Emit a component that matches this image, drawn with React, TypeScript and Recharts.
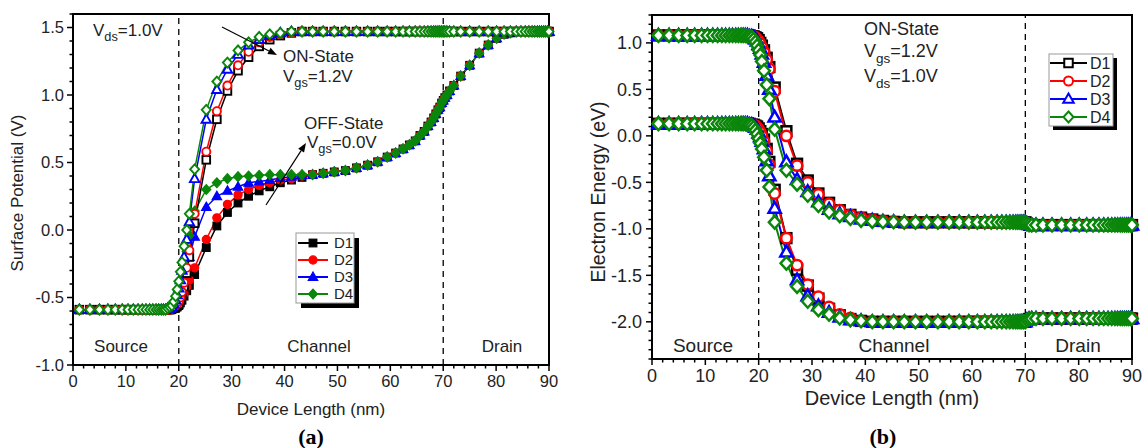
import React from "react";
import { LineChart, Line, XAxis, YAxis, ReferenceLine, ReferenceArea } from "recharts";

const FONT = '"Liberation Sans", Arial, Helvetica, sans-serif';
const SERIF = '"Liberation Serif", "Times New Roman", serif';

const BLACK = "#000000";
const RED = "#ff0000";
const BLUE = "#0000ff";
const GREEN = "#0a870a";

// Device length mesh (nm): source, gate edge, rest of channel + drain
const X_SOURCE = [1.2, 3.2, 5, 6.6, 8, 9.3, 10.4, 11.4, 12.3, 13.1, 13.8, 14.5, 15.1, 15.7, 16.2, 16.7];
const X_GATE = [17.1, 17.5, 17.9, 18.3, 18.7, 19.05, 19.4, 19.7, 20, 20.3, 20.6, 21, 21.5, 22, 23, 25.2, 27.2, 29.2, 31.2, 33.2, 35.2, 37.2, 39.2, 41.3, 43.3];
const X_REST = [45.3, 47.3, 49.4, 51.5, 53.6, 55.7, 57.6, 59.4, 61, 62.4, 63.6, 64.7, 65.6, 66.4, 67.1, 67.7, 68.2, 68.6, 69, 69.35, 69.7, 70, 70.3, 70.7, 71.2, 72, 73.3, 75, 76.8, 78.5, 80.1, 81.5, 82.7, 83.8, 84.7, 85.5, 86.2, 86.8, 87.3, 87.8, 88.2, 88.6, 89, 89.35, 89.7, 90];

// (a) surface potential (V)
const A_SOURCE = [-0.59, -0.59, -0.59, -0.59, -0.59, -0.59, -0.59, -0.59, -0.59, -0.59, -0.59, -0.59, -0.59, -0.59, -0.59, -0.59];
const A_ON_D1 = [-0.59, -0.59, -0.59, -0.59, -0.58, -0.58, -0.57, -0.56, -0.55, -0.52, -0.48, -0.42, -0.32, -0.2, 0.05, 0.52, 0.82, 1.03, 1.18, 1.28, 1.36, 1.41, 1.44, 1.46, 1.47];
const A_ON_D2 = [-0.59, -0.59, -0.59, -0.59, -0.58, -0.57, -0.56, -0.55, -0.53, -0.5, -0.46, -0.39, -0.28, -0.15, 0.12, 0.58, 0.88, 1.07, 1.22, 1.32, 1.39, 1.43, 1.45, 1.46, 1.47];
const A_ON_D3 = [-0.59, -0.59, -0.58, -0.58, -0.57, -0.55, -0.52, -0.48, -0.43, -0.37, -0.3, -0.2, -0.07, 0.06, 0.38, 0.82, 1.04, 1.19, 1.3, 1.37, 1.41, 1.44, 1.46, 1.47, 1.47];
const A_ON_D4 = [-0.59, -0.59, -0.58, -0.57, -0.56, -0.53, -0.49, -0.44, -0.38, -0.31, -0.24, -0.12, 0.0, 0.12, 0.45, 0.89, 1.1, 1.24, 1.33, 1.39, 1.43, 1.45, 1.46, 1.47, 1.47];
const A_ON_REST = [1.47, 1.47, 1.47, 1.47, 1.47, 1.47, 1.47, 1.47, 1.47, 1.47, 1.47, 1.47, 1.47, 1.47, 1.47, 1.47, 1.47, 1.47, 1.47, 1.47, 1.47, 1.47, 1.47, 1.47, 1.47, 1.47, 1.47, 1.47, 1.47, 1.47, 1.47, 1.47, 1.47, 1.47, 1.47, 1.47, 1.47, 1.47, 1.47, 1.47, 1.47, 1.47, 1.47, 1.47, 1.47, 1.47];
const A_OFF_D1 = [-0.59, -0.59, -0.59, -0.59, -0.59, -0.58, -0.58, -0.57, -0.56, -0.54, -0.52, -0.49, -0.45, -0.41, -0.33, -0.13, 0.03, 0.13, 0.2, 0.25, 0.29, 0.32, 0.35, 0.37, 0.39];
const A_OFF_D2 = [-0.59, -0.59, -0.59, -0.59, -0.58, -0.58, -0.57, -0.56, -0.55, -0.53, -0.5, -0.47, -0.42, -0.37, -0.28, -0.07, 0.09, 0.19, 0.26, 0.3, 0.33, 0.35, 0.37, 0.38, 0.4];
const A_OFF_D3 = [-0.59, -0.59, -0.59, -0.58, -0.58, -0.57, -0.56, -0.54, -0.52, -0.48, -0.44, -0.38, -0.3, -0.2, -0.05, 0.17, 0.25, 0.29, 0.32, 0.35, 0.36, 0.37, 0.385, 0.395, 0.405];
const A_OFF_D4 = [-0.59, -0.59, -0.58, -0.58, -0.57, -0.56, -0.54, -0.52, -0.49, -0.44, -0.38, -0.28, -0.16, -0.04, 0.14, 0.3, 0.35, 0.38, 0.395, 0.4, 0.405, 0.41, 0.41, 0.41, 0.41];
const A_OFF_REST = [0.41, 0.42, 0.43, 0.44, 0.46, 0.48, 0.505, 0.54, 0.57, 0.6, 0.63, 0.66, 0.7, 0.73, 0.77, 0.8, 0.83, 0.86, 0.89, 0.91, 0.94, 0.96, 0.98, 1.0, 1.03, 1.07, 1.14, 1.22, 1.31, 1.37, 1.42, 1.45, 1.46, 1.47, 1.47, 1.47, 1.47, 1.47, 1.47, 1.47, 1.47, 1.47, 1.47, 1.47, 1.47, 1.47];

// (b) band edges (eV)
const B_EC_SOURCE = [1.08, 1.08, 1.08, 1.08, 1.08, 1.08, 1.08, 1.08, 1.08, 1.08, 1.08, 1.08, 1.08, 1.08, 1.08, 1.08];
const B_EC_D1 = [1.08, 1.08, 1.08, 1.08, 1.07, 1.07, 1.06, 1.05, 1.03, 1.0, 0.97, 0.92, 0.84, 0.74, 0.52, 0.05, -0.3, -0.48, -0.62, -0.72, -0.8, -0.85, -0.88, -0.9, -0.915];
const B_EC_D2 = [1.08, 1.08, 1.08, 1.08, 1.07, 1.07, 1.06, 1.04, 1.02, 0.99, 0.95, 0.9, 0.82, 0.72, 0.48, 0.0, -0.32, -0.5, -0.63, -0.73, -0.8, -0.85, -0.88, -0.9, -0.915];
const B_EC_D3 = [1.08, 1.08, 1.08, 1.07, 1.07, 1.06, 1.04, 1.02, 0.98, 0.94, 0.88, 0.79, 0.65, 0.5, 0.2, -0.28, -0.47, -0.6, -0.71, -0.79, -0.84, -0.87, -0.895, -0.91, -0.92];
const B_EC_D4 = [1.08, 1.08, 1.07, 1.07, 1.06, 1.04, 1.01, 0.97, 0.92, 0.87, 0.8, 0.7, 0.55, 0.4, 0.07, -0.37, -0.52, -0.64, -0.75, -0.82, -0.86, -0.89, -0.91, -0.92, -0.925];
const B_EC_REST = [-0.925, -0.93, -0.93, -0.93, -0.93, -0.93, -0.93, -0.93, -0.93, -0.93, -0.93, -0.93, -0.93, -0.93, -0.93, -0.93, -0.93, -0.93, -0.93, -0.93, -0.93, -0.93, -0.945, -0.955, -0.96, -0.96, -0.96, -0.96, -0.96, -0.96, -0.96, -0.96, -0.96, -0.96, -0.96, -0.96, -0.96, -0.96, -0.96, -0.96, -0.96, -0.96, -0.96, -0.96, -0.96, -0.96];
const B_EV_SOURCE = [0.13, 0.13, 0.13, 0.13, 0.13, 0.13, 0.13, 0.13, 0.13, 0.13, 0.13, 0.13, 0.13, 0.13, 0.13, 0.13];
const B_EV_D1 = [0.13, 0.13, 0.13, 0.13, 0.12, 0.12, 0.11, 0.1, 0.08, 0.05, 0.02, -0.04, -0.14, -0.28, -0.58, -1.1, -1.44, -1.61, -1.75, -1.86, -1.93, -1.97, -1.99, -2.0, -2.0];
const B_EV_D2 = [0.13, 0.13, 0.13, 0.13, 0.12, 0.12, 0.11, 0.09, 0.07, 0.04, 0.0, -0.06, -0.16, -0.31, -0.62, -1.1, -1.39, -1.6, -1.73, -1.84, -1.92, -1.96, -1.99, -2.0, -2.0];
const B_EV_D3 = [0.13, 0.13, 0.13, 0.12, 0.12, 0.11, 0.09, 0.07, 0.03, -0.01, -0.06, -0.14, -0.27, -0.43, -0.78, -1.25, -1.55, -1.72, -1.83, -1.9, -1.95, -1.98, -1.99, -2.0, -2.0];
const B_EV_D4 = [0.13, 0.13, 0.12, 0.12, 0.11, 0.09, 0.06, 0.02, -0.03, -0.08, -0.14, -0.23, -0.37, -0.55, -0.93, -1.37, -1.62, -1.78, -1.87, -1.92, -1.96, -1.98, -1.99, -2.0, -2.0];
const B_EV_REST = [-2.0, -2.0, -2.0, -2.0, -2.0, -2.0, -2.0, -2.0, -2.0, -2.0, -2.0, -2.0, -2.0, -2.0, -2.0, -2.0, -2.0, -2.0, -2.0, -2.0, -2.0, -2.0, -1.98, -1.97, -1.965, -1.965, -1.965, -1.965, -1.965, -1.965, -1.965, -1.965, -1.965, -1.965, -1.965, -1.965, -1.965, -1.965, -1.965, -1.965, -1.965, -1.965, -1.965, -1.965, -1.965, -1.965];

// axis ticks (majors get labels)
const X_TICKS = [0, 2, 4, 6, 8, 10, 12, 14, 16, 18, 20, 22, 24, 26, 28, 30, 32, 34, 36, 38, 40, 42, 44, 46, 48, 50, 52, 54, 56, 58, 60, 62, 64, 66, 68, 70, 72, 74, 76, 78, 80, 82, 84, 86, 88, 90];
const A_Y_TICKS = [-1.0, -0.9, -0.8, -0.7, -0.6, -0.5, -0.4, -0.3, -0.2, -0.1, 0, 0.1, 0.2, 0.3, 0.4, 0.5, 0.6, 0.7, 0.8, 0.9, 1.0, 1.1, 1.2, 1.3, 1.4, 1.5, 1.6];
const B_Y_TICKS = [-2.4, -2.3, -2.2, -2.1, -2.0, -1.9, -1.8, -1.7, -1.6, -1.5, -1.4, -1.3, -1.2, -1.1, -1.0, -0.9, -0.8, -0.7, -0.6, -0.5, -0.4, -0.3, -0.2, -0.1, 0, 0.1, 0.2, 0.3, 0.4, 0.5, 0.6, 0.7, 0.8, 0.9, 1.0, 1.1, 1.2, 1.3];

const X_ALL = [...X_SOURCE, ...X_GATE, ...X_REST];
const SERIES: Record<string, number[]> = {
  aOn1: [...A_SOURCE, ...A_ON_D1, ...A_ON_REST],
  aOn2: [...A_SOURCE, ...A_ON_D2, ...A_ON_REST],
  aOn3: [...A_SOURCE, ...A_ON_D3, ...A_ON_REST],
  aOn4: [...A_SOURCE, ...A_ON_D4, ...A_ON_REST],
  aOff1: [...A_SOURCE, ...A_OFF_D1, ...A_OFF_REST],
  aOff2: [...A_SOURCE, ...A_OFF_D2, ...A_OFF_REST],
  aOff3: [...A_SOURCE, ...A_OFF_D3, ...A_OFF_REST],
  aOff4: [...A_SOURCE, ...A_OFF_D4, ...A_OFF_REST],
  bEc1: [...B_EC_SOURCE, ...B_EC_D1, ...B_EC_REST],
  bEc2: [...B_EC_SOURCE, ...B_EC_D2, ...B_EC_REST],
  bEc3: [...B_EC_SOURCE, ...B_EC_D3, ...B_EC_REST],
  bEc4: [...B_EC_SOURCE, ...B_EC_D4, ...B_EC_REST],
  bEv1: [...B_EV_SOURCE, ...B_EV_D1, ...B_EV_REST],
  bEv2: [...B_EV_SOURCE, ...B_EV_D2, ...B_EV_REST],
  bEv3: [...B_EV_SOURCE, ...B_EV_D3, ...B_EV_REST],
  bEv4: [...B_EV_SOURCE, ...B_EV_D4, ...B_EV_REST],
};

const rows = X_ALL.map((x, i) => {
  const r: Record<string, number> = { x };
  Object.keys(SERIES).forEach((k) => (r[k] = SERIES[k][i]));
  return r;
});

type Shape = "square" | "circle" | "triangle" | "diamond";

const DEVICES: { n: number; name: string; color: string; shape: Shape }[] = [
  { n: 1, name: "D1", color: BLACK, shape: "square" },
  { n: 2, name: "D2", color: RED, shape: "circle" },
  { n: 3, name: "D3", color: BLUE, shape: "triangle" },
  { n: 4, name: "D4", color: GREEN, shape: "diamond" },
];

function marker(shape: Shape, cx: number, cy: number, r: number, color: string, filled: boolean, sw: number, key?: any) {
  const fill = filled ? color : "#ffffff";
  const common = { fill, stroke: color, strokeWidth: sw };
  if (shape === "square") {
    const h = r * 0.85;
    return <rect key={key} x={cx - h} y={cy - h} width={2 * h} height={2 * h} {...common} />;
  }
  if (shape === "circle") return <circle key={key} cx={cx} cy={cy} r={r * 0.9} {...common} />;
  if (shape === "triangle") {
    const pts = `${cx},${cy - r * 1.1} ${cx + r * 1.05},${cy + r * 0.75} ${cx - r * 1.05},${cy + r * 0.75}`;
    return <polygon key={key} points={pts} {...common} />;
  }
  const pts = `${cx},${cy - r * 1.1} ${cx + r},${cy} ${cx},${cy + r * 1.1} ${cx - r},${cy}`;
  return <polygon key={key} points={pts} {...common} />;
}

function makeDot(shape: Shape, color: string, filled: boolean, r: number, sw: number) {
  return (p: any) => {
    if (p.cx == null || p.cy == null) return <g key={p.index} />;
    return marker(shape, p.cx, p.cy, r, color, filled, sw, p.index);
  };
}

const isHalf = (v: number) => Math.abs(v * 2 - Math.round(v * 2)) < 1e-6;

function XTick(p: any) {
  const { x, y, payload, fs, dy } = p;
  const v = payload.value;
  const major = v % 10 === 0;
  return (
    <g>
      <line x1={x} x2={x} y1={y} y2={y + (major ? 6 : 3.5)} stroke="#000" strokeWidth={1.5} />
      {major && (
        <text x={x} y={y + dy} textAnchor="middle" fontSize={fs} fontFamily={FONT} fill="#222">
          {v}
        </text>
      )}
    </g>
  );
}

function YTick(p: any) {
  const { x, y, payload, fs, dx, dy } = p;
  const v = payload.value;
  const major = isHalf(v);
  return (
    <g>
      <line x1={x - (major ? 6 : 3.5)} x2={x} y1={y} y2={y} stroke="#000" strokeWidth={1.5} />
      {major && (
        <text x={x - dx} y={y + dy} textAnchor="end" fontSize={fs} fontFamily={FONT} fill="#222">
          {v.toFixed(1)}
        </text>
      )}
    </g>
  );
}

function Arrow({ x1, y1, x2, y2 }: { x1: number; y1: number; x2: number; y2: number }) {
  const a = Math.atan2(y2 - y1, x2 - x1);
  const L = 9;
  const W = 3.5;
  const bx = x2 - L * Math.cos(a);
  const by = y2 - L * Math.sin(a);
  const p1 = `${bx + W * Math.sin(a)},${by - W * Math.cos(a)}`;
  const p2 = `${bx - W * Math.sin(a)},${by + W * Math.cos(a)}`;
  return (
    <g>
      <line x1={x1} y1={y1} x2={bx} y2={by} stroke="#000" strokeWidth={1.2} />
      <polygon points={`${x2},${y2} ${p1} ${p2}`} fill="#000" />
    </g>
  );
}

function Sub({ x, y, fs, main, sub, rest }: { x: number; y: number; fs: number; main: string; sub: string; rest: string }) {
  return (
    <text x={x} y={y} fontSize={fs} fontFamily={FONT} fill="#222">
      {main}
      <tspan dy={fs * 0.32} fontSize={fs * 0.75}>{sub}</tspan>
      <tspan dy={-fs * 0.32}>{rest}</tspan>
    </text>
  );
}

function LegendBox(props: { x: number; y: number; w: number; h: number; sh: number; rowY: number[]; l1: number; l2: number; tx: number; fs: number; filled: boolean; r: number; sw: number; lw: number }) {
  const { x, y, w, h, sh, rowY, l1, l2, tx, fs, filled, r, sw, lw } = props;
  return (
    <g>
      <rect x={x + sh} y={y + sh} width={w} height={h} fill="#000" />
      <rect x={x} y={y} width={w} height={h} fill="#fff" stroke="#999" strokeWidth={1} />
      {DEVICES.map((d, i) => (
        <g key={d.name}>
          <line x1={l1} x2={l2} y1={rowY[i]} y2={rowY[i]} stroke={d.color} strokeWidth={lw} />
          {marker(d.shape, (l1 + l2) / 2, rowY[i], r, d.color, filled, sw)}
          <text x={tx} y={rowY[i] + fs * 0.36} fontSize={fs} fontFamily={FONT} fill="#222">
            {d.name}
          </text>
        </g>
      ))}
    </g>
  );
}

function PanelA() {
  return (
    <LineChart width={573} height={448} data={rows} margin={{ top: 14, right: 24, bottom: 0, left: 0 }}>
      <XAxis type="number" dataKey="x" domain={[0, 90]} ticks={X_TICKS} interval={0} height={83}
        tickSize={0} tickMargin={0} tickLine={false} axisLine={false}
        tick={(p: any) => <XTick {...p} fs={16.5} dy={22} />} />
      <YAxis type="number" domain={[-1, 1.6]} ticks={A_Y_TICKS} interval={0} width={73}
        tickSize={0} tickMargin={0} tickLine={false} axisLine={false}
        tick={(p: any) => <YTick {...p} fs={16.5} dx={9} dy={5.8} />} />
      <ReferenceArea x1={0} x2={90} y1={-1} y2={1.6} fill="none" fillOpacity={0} stroke="#000" strokeWidth={2} />
      <ReferenceLine x={20} stroke="#000" strokeWidth={1.3} strokeDasharray="6 5" />
      <ReferenceLine x={70} stroke="#000" strokeWidth={1.3} strokeDasharray="6 5" />
      {DEVICES.map((d) => (
        <Line key={`off${d.n}`} dataKey={`aOff${d.n}`} type="linear" stroke={d.color} strokeWidth={1.5}
          dot={makeDot(d.shape, d.color, true, 4.5, 1.2)} activeDot={false} isAnimationActive={false} />
      ))}
      {DEVICES.map((d) => (
        <Line key={`on${d.n}`} dataKey={`aOn${d.n}`} type="linear" stroke={d.color} strokeWidth={1.5}
          dot={makeDot(d.shape, d.color, false, 4.5, 1.9)} activeDot={false} isAnimationActive={false} />
      ))}
    </LineChart>
  );
}

function PanelB() {
  return (
    <LineChart width={573} height={448} data={rows} margin={{ top: 15, right: 14, bottom: 0, left: 0 }}>
      <XAxis type="number" dataKey="x" domain={[0, 90]} ticks={X_TICKS} interval={0} height={89}
        tickSize={0} tickMargin={0} tickLine={false} axisLine={false}
        tick={(p: any) => <XTick {...p} fs={18} dy={23} />} />
      <YAxis type="number" domain={[-2.4, 1.3]} ticks={B_Y_TICKS} interval={0} width={79}
        tickSize={0} tickMargin={0} tickLine={false} axisLine={false}
        tick={(p: any) => <YTick {...p} fs={18} dx={10} dy={6.4} />} />
      <ReferenceArea x1={0} x2={90} y1={-2.4} y2={1.3} fill="none" fillOpacity={0} stroke="#000" strokeWidth={2} />
      <ReferenceLine x={20} stroke="#000" strokeWidth={1.3} strokeDasharray="6 5" />
      <ReferenceLine x={70} stroke="#000" strokeWidth={1.3} strokeDasharray="6 5" />
      {DEVICES.map((d) => [
        <Line key={`ec${d.n}`} dataKey={`bEc${d.n}`} type="linear" stroke={d.color} strokeWidth={2}
          dot={makeDot(d.shape, d.color, false, 5.8, 2.5)} activeDot={false} isAnimationActive={false} />,
        <Line key={`ev${d.n}`} dataKey={`bEv${d.n}`} type="linear" stroke={d.color} strokeWidth={2}
          dot={makeDot(d.shape, d.color, false, 5.8, 2.5)} activeDot={false} isAnimationActive={false} />,
      ])}
    </LineChart>
  );
}

export default function App() {
  return (
    <div style={{ position: "absolute", left: 0, top: 0, width: 1146, height: 448, background: "#fff", overflow: "hidden" }}>
      <div style={{ position: "absolute", left: 0, top: 0 }}>
        <PanelA />
      </div>
      <div style={{ position: "absolute", left: 573, top: 0 }}>
        <PanelB />
      </div>
      <svg width={1146} height={448} style={{ position: "absolute", left: 0, top: 0, pointerEvents: "none" }}>
        {/* panel (a) */}
        <text transform="translate(23,193) rotate(-90)" textAnchor="middle" fontSize={17} fontFamily={FONT} fill="#222">
          Surface Potential (V)
        </text>
        <text x={311} y={415} textAnchor="middle" fontSize={17} fontFamily={FONT} fill="#222">Device Length (nm)</text>
        <text x={311} y={444} textAnchor="middle" fontSize={22} fontWeight="bold" fontFamily={SERIF}>(a)</text>
        <Sub x={93} y={36} fs={17} main="V" sub="ds" rest="=1.0V" />
        <text x={283} y={62} fontSize={17} fontFamily={FONT} fill="#222">ON-State</text>
        <Sub x={283} y={82} fs={17} main="V" sub="gs" rest="=1.2V" />
        <text x={304} y={129} fontSize={17} fontFamily={FONT} fill="#222">OFF-State</text>
        <Sub x={307} y={148} fs={17} main="V" sub="gs" rest="=0.0V" />
        <Arrow x1={222} y1={27} x2={277} y2={55} />
        <Arrow x1={266} y1={205} x2={306} y2={143} />
        <text x={121} y={352} textAnchor="middle" fontSize={17} fontFamily={FONT} fill="#222">Source</text>
        <text x={319} y={352} textAnchor="middle" fontSize={17} fontFamily={FONT} fill="#222">Channel</text>
        <text x={502} y={352} textAnchor="middle" fontSize={17} fontFamily={FONT} fill="#222">Drain</text>
        <LegendBox x={296} y={233} w={58} h={70} sh={5} rowY={[243, 260, 277, 294]} l1={298} l2={328} tx={334}
          fs={15} filled r={4.5} sw={1.2} lw={2} />

        {/* panel (b) */}
        <text transform="translate(605,192) rotate(-90)" textAnchor="middle" fontSize={19.5} fontFamily={FONT} fill="#222">
          Electron Energy (eV)
        </text>
        <text x={892} y={405} textAnchor="middle" fontSize={20} fontFamily={FONT} fill="#222">Device Length (nm)</text>
        <text x={883} y={444} textAnchor="middle" fontSize={22} fontWeight="bold" fontFamily={SERIF}>(b)</text>
        <text x={864} y={35} fontSize={18} fontFamily={FONT} fill="#222">ON-State</text>
        <Sub x={864} y={57} fs={18} main="V" sub="gs" rest="=1.2V" />
        <Sub x={864} y={82} fs={18} main="V" sub="ds" rest="=1.0V" />
        <text x={703} y={352} textAnchor="middle" fontSize={19} fontFamily={FONT} fill="#222">Source</text>
        <text x={894} y={352} textAnchor="middle" fontSize={19} fontFamily={FONT} fill="#222">Channel</text>
        <text x={1078} y={352} textAnchor="middle" fontSize={19} fontFamily={FONT} fill="#222">Drain</text>
        <LegendBox x={1049} y={54} w={64} h={72} sh={4} rowY={[63, 81, 99, 117]} l1={1050} l2={1087} tx={1090}
          fs={16} filled={false} r={5} sw={2} lw={2} />
      </svg>
    </div>
  );
}
